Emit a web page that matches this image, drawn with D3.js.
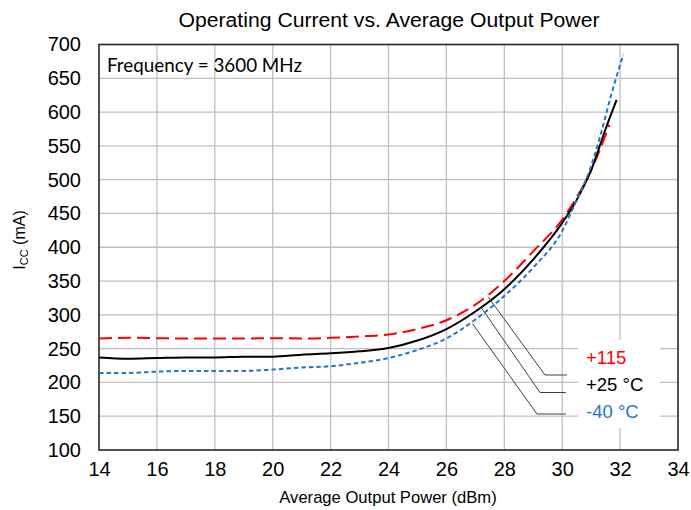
<!DOCTYPE html>
<html><head><meta charset="utf-8">
<script src="https://cdn.jsdelivr.net/npm/d3@7"></script>
<style>body{margin:0;background:#fff}svg{display:block}</style>
</head><body>
<svg id="c" width="691" height="510"></svg>
<script>
const xTicks = [14,16,18,20,22,24,26,28,30,32,34];
const yTicks = [100,150,200,250,300,350,400,450,500,550,600,650,700];

const p115x = [14,15,16,17,18,19,20,21,22,23,24,25,26,27,28,29,30,30.5,31,31.3,31.63];
const p115y = [265,266,265.5,265,265,265,265.5,265,266,268,271,279,292,315,350,394,441,474,514,544,581];

const p25x = [14,15,16,17,18,19,20,21,22,23,24,25,26,27,28,29,30,30.5,31,31.5,31.88];
const p25y = [237,235,236,237,237,238,238,241,243,246,251,262,279,305,338,382,436,470,514,575,618];

const m40x = [14,15,16,17,18,19,20,21,22,23,24,25,26,27,28,29,30,30.5,31,31.31,31.71,32.11];
const m40y = [214,214,216,217,217,217,219,222,224,229,236,248,265,293,328,370,424,470,520,564,628,685];

const seriesNames = ["+115","+25 °C","-40 °C"];
const seriesColors = ["#ff0000","#000000","#1f78c8"];

const svg = d3.select("#c");
const L=99, R=678, T=44.5, B=450;
const x = d3.scaleLinear().domain([14,34]).range([L,R]);
const y = d3.scaleLinear().domain([100,700]).range([B,T]);

// grid
svg.append("g").selectAll("line").data(xTicks.slice(1,-1)).join("line")
  .attr("x1",d=>x(d)).attr("x2",d=>x(d)).attr("y1",T).attr("y2",B)
  .attr("stroke","#c0c0c0").attr("stroke-width",1.3);
svg.append("g").selectAll("line").data(yTicks.slice(1,-1)).join("line")
  .attr("x1",L).attr("x2",R).attr("y1",d=>y(d)).attr("y2",d=>y(d))
  .attr("stroke","#c0c0c0").attr("stroke-width",1.3);

// axes (labels only)
const xAxis = d3.axisBottom(x).tickValues(xTicks).tickSize(0).tickPadding(12);
const gx = svg.append("g").attr("transform",`translate(0,${B})`).call(xAxis);
gx.select(".domain").remove();
gx.selectAll("text").attr("font-family","Liberation Sans, Arial, sans-serif").attr("font-size",20).attr("fill","#000");
const yAxis = d3.axisLeft(y).tickValues(yTicks).tickSize(0).tickPadding(18);
const gy = svg.append("g").attr("transform",`translate(${L},0)`).call(yAxis);
gy.select(".domain").remove();
gy.selectAll("text").attr("font-family","Liberation Sans, Arial, sans-serif").attr("font-size",20).attr("fill","#000");

// border
svg.append("rect").attr("x",L).attr("y",T).attr("width",R-L).attr("height",B-T)
  .attr("fill","none").attr("stroke","#262626").attr("stroke-width",1.6);

// lines
const line = d3.line().x(d=>x(d[0])).y(d=>y(d[1])).curve(d3.curveMonotoneX);
const series = [
  {xs:p115x, ys:p115y, dash:"13,6", w:2},
  {xs:p25x, ys:p25y, dash:null, w:2},
  {xs:m40x, ys:m40y, dash:"4.5,3", w:2}
];
series.forEach((s,i)=>{
  const pts = s.xs.map((v,k)=>[v,s.ys[k]]);
  svg.append("path").datum(pts).attr("d",line).attr("fill","none")
    .attr("stroke",seriesColors[i]).attr("stroke-width",s.w)
    .attr("stroke-dasharray",s.dash);
});

// label box (white background)
svg.append("rect").attr("x",578).attr("y",340).attr("width",82).attr("height",88).attr("fill","#fff");

// leader lines
const leaders = [
  {from:[27.45,326], elbow:[545,375], end:567},
  {from:[27.2,311], elbow:[540,392.5], end:566},
  {from:[26.9,287], elbow:[537,414], end:566}
];
leaders.forEach(l=>{
  svg.append("polyline")
    .attr("points",`${x(l.from[0])},${y(l.from[1])} ${l.elbow[0]},${l.elbow[1]} ${l.end},${l.elbow[1]}`)
    .attr("fill","none").attr("stroke","#404040").attr("stroke-width",1);
});
const labY = [358,385,412];
seriesNames.forEach((n,i)=>{
  svg.append("text").attr("x",586).attr("y",labY[i]).attr("dy","0.35em")
    .attr("font-family","Liberation Sans, Arial, sans-serif").attr("font-size",18.5)
    .attr("fill",seriesColors[i]).text(n);
});

// title
svg.append("text").attr("x",389).attr("y",27).attr("text-anchor","middle")
  .attr("font-family","Liberation Sans, Arial, sans-serif").attr("font-size",20)
  .attr("textLength",421).attr("lengthAdjust","spacingAndGlyphs")
  .text("Operating Current vs. Average Output Power");

// frequency note
svg.append("text").attr("x",107).attr("y",72)
  .attr("font-family","Lato, 'Open Sans', sans-serif").attr("font-size",18.5)
  .attr("textLength",195).attr("lengthAdjust","spacingAndGlyphs")
  .text("Frequency = 3600 MHz");

// axis titles
svg.append("text").attr("x",388).attr("y",503).attr("text-anchor","middle")
  .attr("font-family","Liberation Sans, Arial, sans-serif").attr("font-size",16.6)
  .text("Average Output Power (dBm)");
const yt = svg.append("text").attr("transform","translate(25,240) rotate(-90)").attr("text-anchor","middle")
  .attr("font-family","Liberation Sans, Arial, sans-serif").attr("font-size",16);
yt.append("tspan").text("I");
yt.append("tspan").attr("font-size",11).attr("dy",3).text("CC");
yt.append("tspan").attr("dy",-3).text(" (mA)");
</script>
</body></html>
